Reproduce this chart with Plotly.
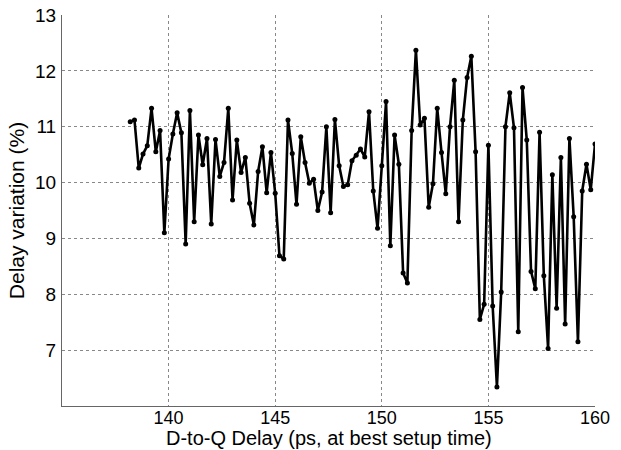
import plotly.graph_objects as go

delay_ps = [
    138.2, 138.4, 138.6, 138.8, 139.0, 139.2, 139.4, 139.6, 139.8, 140.0,
    140.2, 140.4, 140.6, 140.8, 141.0, 141.2, 141.4, 141.6, 141.8, 142.0,
    142.2, 142.4, 142.6, 142.8, 143.0, 143.2, 143.4, 143.6, 143.8, 144.0,
    144.2, 144.4, 144.6, 144.8, 145.0, 145.2, 145.4, 145.6, 145.8, 146.0,
    146.2, 146.4, 146.6, 146.8, 147.0, 147.2, 147.4, 147.6, 147.8, 148.0,
    148.2, 148.4, 148.6, 148.8, 149.0, 149.2, 149.4, 149.6, 149.8, 150.0,
    150.2, 150.4, 150.6, 150.8, 151.0, 151.2, 151.4, 151.6, 151.8, 152.0,
    152.2, 152.4, 152.6, 152.8, 153.0, 153.2, 153.4, 153.6, 153.8, 154.0,
    154.2, 154.4, 154.6, 154.8, 155.0, 155.2, 155.4, 155.6, 155.8, 156.0,
    156.2, 156.4, 156.6, 156.8, 157.0, 157.2, 157.4, 157.6, 157.8, 158.0,
    158.2, 158.4, 158.6, 158.8, 159.0, 159.2, 159.4, 159.6, 159.8, 160.0,
]

variation_pct = [
    11.09, 11.12, 10.26, 10.51, 10.66, 11.33, 10.55, 10.93, 9.10, 10.42,
    10.87, 11.25, 10.89, 8.90, 11.29, 9.30, 10.85, 10.32, 10.79, 9.26,
    10.77, 10.11, 10.36, 11.33, 9.69, 10.76, 10.18, 10.45, 9.63, 9.24,
    10.20, 10.64, 9.82, 10.54, 9.81, 8.69, 8.63, 11.12, 10.52, 9.61,
    10.82, 10.36, 9.99, 10.06, 9.50, 9.83, 11.00, 9.46, 11.13, 10.30,
    9.93, 9.96, 10.39, 10.49, 10.60, 10.46, 11.27, 9.85, 9.18, 10.30,
    11.45, 8.87, 10.85, 10.33, 8.38, 8.20, 10.93, 12.37, 11.03, 11.15,
    9.56, 9.98, 11.33, 10.54, 9.80, 11.00, 11.83, 9.30, 11.12, 11.88,
    12.26, 10.55, 7.55, 7.82, 10.67, 7.79, 6.34, 8.04, 11.00, 11.61,
    10.98, 7.33, 11.70, 10.76, 8.41, 8.10, 10.90, 8.33, 7.03, 10.14,
    7.75, 10.45, 7.47, 10.79, 9.39, 7.15, 9.85, 10.33, 9.87, 10.69,
]

x_ticks = [140, 145, 150, 155, 160]
y_ticks = [7, 8, 9, 10, 11, 12, 13]
x_title = "D-to-Q Delay (ps, at best setup time)"
y_title = "Delay variation (%)"

font_family = "Liberation Sans, Arial, sans-serif"

fig = go.Figure()
fig.add_trace(go.Scatter(
    x=delay_ps, y=variation_pct, mode="lines+markers",
    line=dict(color="black", width=2.6),
    marker=dict(color="black", size=5),
    showlegend=False,
))

axis_common = dict(
    showgrid=True, gridcolor="#888888", griddash="dot", gridwidth=1,
    showline=True, linecolor="#666666", linewidth=1,
    zeroline=False, ticks="", automargin=False,
)

fig.update_xaxes(range=[135, 160], tickvals=x_ticks, ticktext=[str(v) for v in x_ticks],
                 ticklabelstandoff=-5,
                 tickfont=dict(size=18, color="black", family=font_family),
                 **axis_common)
fig.update_yaxes(range=[6, 13], tickvals=y_ticks, ticktext=[str(v) for v in y_ticks],
                 ticklabelstandoff=1,
                 tickfont=dict(size=19, color="black", family=font_family),
                 title=dict(text=y_title, standoff=4,
                            font=dict(size=21, color="black", family=font_family)),
                 **axis_common)

plot_h = 450 - 15 - 44
fig.add_annotation(
    text=x_title, xref="paper", yref="paper", x=0.5, y=-44 / plot_h,
    xanchor="center", yanchor="bottom", showarrow=False, yshift=0, borderpad=0,
    font=dict(size=20, color="black", family=font_family),
)

fig.update_layout(
    width=621, height=450,
    margin=dict(l=62, r=26, t=15, b=44),
    paper_bgcolor="white", plot_bgcolor="white",
    font=dict(family=font_family, color="black"),
)

fig.write_html("out.html", config={"displayModeBar": False},
               post_script="document.body.style.margin='0';")
